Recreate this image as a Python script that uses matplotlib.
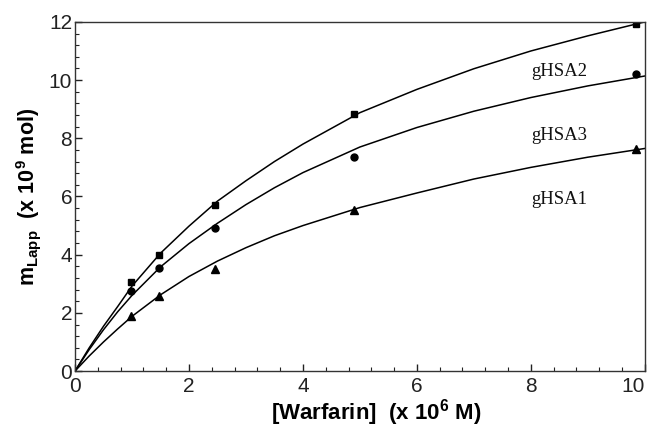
import matplotlib.pyplot as plt
from matplotlib.ticker import MultipleLocator

plt.rcParams['font.family'] = ['Liberation Sans', 'DejaVu Sans']
plt.rcParams['mathtext.fontset'] = 'custom'
plt.rcParams['mathtext.bf'] = 'Liberation Sans:bold'
plt.rcParams['mathtext.rm'] = 'Liberation Sans:bold'

# Messpunkte
warfarin = [0.98, 1.47, 2.45, 4.90, 9.85]
ghsa2_pts = [3.05, 4.00, 5.72, 8.82, 11.92]
ghsa3_pts = [2.75, 3.55, 4.90, 7.34, 10.20]
ghsa1_pts = [1.88, 2.58, 3.50, 5.52, 7.62]

# Kurven
curve_x = [0, 0.25, 0.5, 0.75, 1, 1.5, 2, 2.5, 3, 3.5, 4, 5, 6, 7, 8, 9, 10]
ghsa2_fit = [0, 0.80, 1.54, 2.22, 2.92, 4.05, 4.98, 5.84, 6.54, 7.20, 7.80, 8.88, 9.68, 10.39, 11.00, 11.52, 12.00]
ghsa3_fit = [0, 0.74, 1.42, 2.04, 2.60, 3.58, 4.38, 5.08, 5.72, 6.30, 6.82, 7.70, 8.37, 8.93, 9.40, 9.80, 10.14]
ghsa1_fit = [0, 0.52, 1.00, 1.45, 1.88, 2.62, 3.25, 3.78, 4.24, 4.65, 5.00, 5.62, 6.12, 6.60, 7.00, 7.35, 7.65]

labels = ['gHSA2', 'gHSA3', 'gHSA1']
label_y = [10.28, 8.10, 5.90]
xticks = [0, 2, 4, 6, 8, 10]

fig = plt.figure(figsize=(6.52, 4.29), dpi=100)
ax = fig.add_axes([0.115, 0.135, 0.874, 0.814])

for fit, pts, m, ms in [(ghsa2_fit, ghsa2_pts, 's', 5.0),
                        (ghsa3_fit, ghsa3_pts, 'o', 5.0),
                        (ghsa1_fit, ghsa1_pts, '^', 5.5)]:
    ax.plot(curve_x, fit, color='black', linewidth=1.1)
    ax.plot(warfarin, pts, m, color='black', markersize=ms, linestyle='none')

for lab, y in zip(labels, label_y):
    ax.text(8.5, y, lab, family='Liberation Serif', fontsize=13.5,
            ha='center', va='center', color='#111111')

ax.set_xlim(0, 10)
ax.set_ylim(0, 12)
ax.set_xticks(xticks, [str(t) for t in xticks])
ax.xaxis.set_minor_locator(MultipleLocator(0.4))
ax.yaxis.set_major_locator(MultipleLocator(2))
ax.yaxis.set_minor_locator(MultipleLocator(0.4))
ax.tick_params(which='both', direction='in', top=False, right=False,
               labelsize=15, colors='#222222')
ax.tick_params(which='major', length=5, width=1)
ax.tick_params(which='minor', length=3, width=0.8)
ax.tick_params(axis='x', pad=4)
ax.tick_params(axis='y', pad=2)
ax.xaxis.get_major_ticks()[-1].label1.set_horizontalalignment('right')
for s in ax.spines.values():
    s.set_linewidth(1.0)
    s.set_color('#333333')

ax.set_xlabel(r'[Warfarin]  (x 10$^{\mathbf{6}}$ M)', fontsize=16, fontweight='bold', va='center')
ax.set_ylabel(r'm$_{\mathbf{Lapp}}$  (x 10$^{\mathbf{9}}$ mol)', fontsize=15.5, fontweight='bold', va='center')
ax.xaxis.set_label_coords(0.528, -0.12)
ax.yaxis.set_label_coords(-0.082, 0.5)

fig.savefig('out.png', dpi=100)
